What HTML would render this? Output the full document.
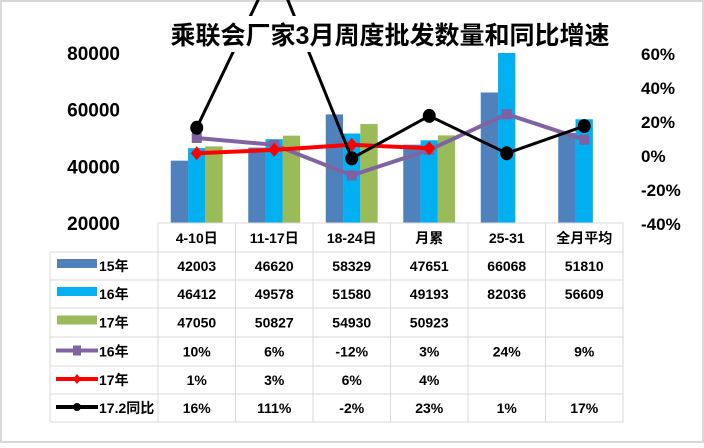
<!DOCTYPE html>
<html><head><meta charset="utf-8"><style>
body{margin:0;background:#fff}
svg text{font-family:"Liberation Sans","Noto Sans CJK SC",sans-serif;font-weight:bold}
</style></head><body>
<svg id="c" width="704" height="443" viewBox="0 0 704 443">
<rect x="1" y="1" width="702" height="441" fill="#fff" stroke="#d9d9d9" stroke-width="2"/>
<g id="plot"></g>
<rect x="166" y="16" width="448" height="36" fill="#fff"/>
<text x="390" y="44" text-anchor="middle" font-size="25" fill="#000">乘联会厂家3月周度批发数量和同比增速</text>
<g id="axes"></g>
<g id="table"></g>
</svg>
<script>
const categories=["4-10日","11-17日","18-24日","月累","25-31","全月平均"];
const s15=[42003,46620,58329,47651,66068,51810];
const s16=[46412,49578,51580,49193,82036,56609];
const s17=[47050,50827,54930,50923,null,null];
const g16=[10,6,-12,3,24,9];
const g17=[1,3,6,4,null,null];
const g172=[16,111,-2,23,1,17];
const leftTicks=[20000,40000,60000,80000];
const rightTicks=[-40,-20,0,20,40,60];
const NS="http://www.w3.org/2000/svg";
const X0=158,CW=77.5,YT=53,YB=223;
const yL=v=>YB-(v-20000)/60000*(YB-YT);
const yR=v=>YB-(v+40)/100*(YB-YT);
const cx=i=>X0+CW*(i+0.5);
function mk(tag,attrs,parent,txt){const e=document.createElementNS(NS,tag);for(const k in attrs)e.setAttribute(k,attrs[k]);if(txt!==undefined)e.textContent=txt;parent.appendChild(e);return e;}
const plot=document.getElementById('plot'),axes=document.getElementById('axes'),table=document.getElementById('table');
const bars=[[s15,"#4f81bd"],[s16,"#00b0f0"],[s17,"#9bbb59"]];
bars.forEach(([arr,col],si)=>{arr.forEach((v,i)=>{if(v==null)return;
 const top=Math.max(yL(v),YT);
 const r=mk('rect',{x:cx(i)-26+si*17.3,y:top,width:17.3,height:YB-top,fill:col},plot);
 
 });});
function line(arr,col,w,marker,name){
 let pts=[];arr.forEach((v,i)=>{if(v!=null)pts.push([cx(i),yR(v)]);});
 const p=mk('polyline',{points:pts.map(p=>p.join(',')).join(' '),fill:'none',stroke:col,'stroke-width':w},plot);
 
 
 pts.forEach(([x,y])=>{let m;
  if(marker==='sq')m=mk('rect',{x:x-5,y:y-5,width:10,height:10,fill:'#7f60a0'},plot);
  else if(marker==='dia')m=mk('polygon',{points:`${x},${y-7} ${x+6},${y} ${x},${y+7} ${x-6},${y}`,fill:'#ff0000'},plot);
  else m=mk('ellipse',{cx:x,cy:y,rx:6.5,ry:7,fill:'#000'},plot);
  
  });
}
line(g16,'#8064a2',4,'sq','growth-16');
line(g17,'#ff0000',4,'dia','growth-17');
line(g172,'#000',3,'dot','growth-172');
leftTicks.forEach(t=>{const e=mk('text',{x:120,y:yL(t)+7,'text-anchor':'end','font-size':19},axes,t);
 
 });
rightTicks.forEach(t=>{const e=mk('text',{x:641,y:yR(t)+7,'font-size':17},axes,t+'%');
 
 });
// table
const rowsY=[223,252,280,308,337,366,394,422];
const stroke='#d9d9d9';
for(let i=0;i<=6;i++){const x=X0+CW*i;const l=mk('line',{x1:x,y1:223,x2:x,y2:422,stroke,'stroke-width':1},table);}
mk('line',{x1:50,y1:252,x2:50,y2:422,stroke},table);
rowsY.forEach((y,i)=>{const l=mk('line',{x1:i==0?X0:50,y1:y,x2:X0+CW*6,y2:y,stroke},table);});
categories.forEach((c,i)=>{const e=mk('text',{x:cx(i),y:243,'text-anchor':'middle','font-size':14},table,c);});
const rows=[["15年",s15,'bar','#4f81bd',false],["16年",s16,'bar','#00b0f0',false],["17年",s17,'bar','#9bbb59',false],["16年",g16,'sq','#8064a2',true],["17年",g17,'dia','#ff0000',true],["17.2同比",g172,'dot','#000',true]];
rows.forEach(([lab,arr,kind,col,pct],r)=>{const ym=(rowsY[r+1]+rowsY[r+2])/2;
 if(kind==='bar')mk('rect',{x:57,y:ym-7,width:40,height:9,fill:col},table);
 else{mk('line',{x1:56,y1:ym-1,x2:98,y2:ym-1,stroke:col,'stroke-width':4},table);
  if(kind==='sq')mk('rect',{x:73,y:ym-6,width:8,height:10,fill:col},table);
  else if(kind==='dia')mk('polygon',{points:`77,${ym-6} 81,${ym-1} 77,${ym+4} 73,${ym-1}`,fill:col},table);
  else mk('circle',{cx:77,cy:ym-1,r:4,fill:col},table);}
 const t=mk('text',{x:99,y:ym+5,'font-size':14},table,lab);
 arr.forEach((v,i)=>{if(v==null)return;const e=mk('text',{x:cx(i),y:ym+5,'text-anchor':'middle','font-size':14},table,pct?v+'%':v);
  
  });});
</script>
</body></html>
